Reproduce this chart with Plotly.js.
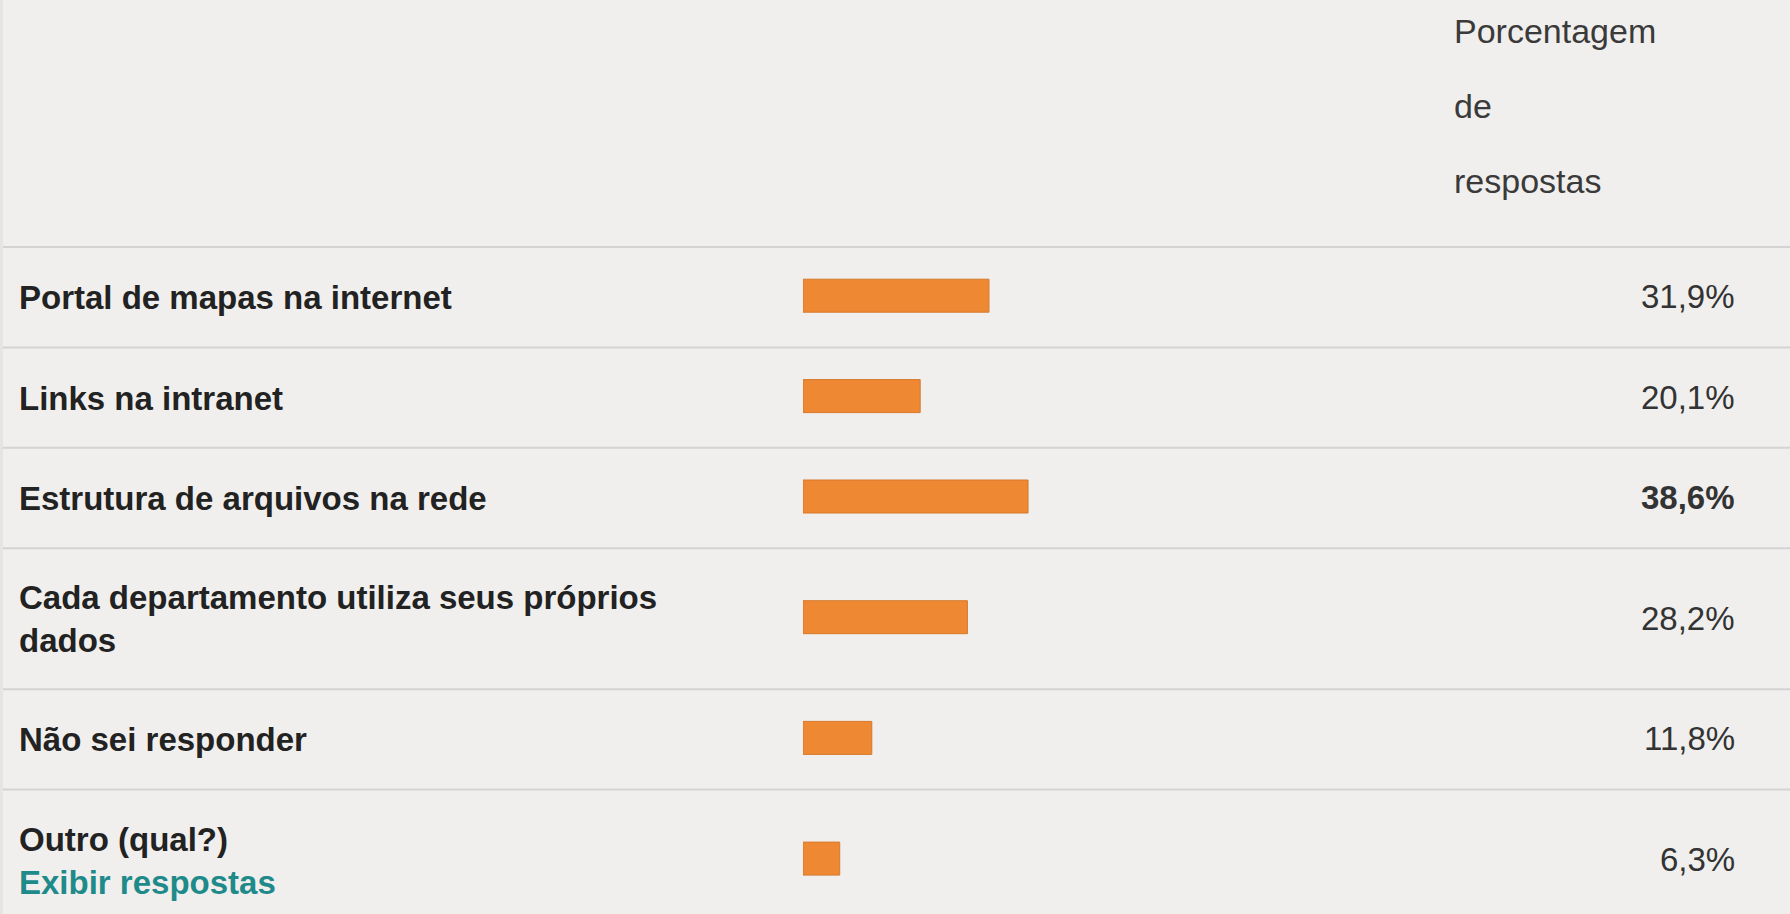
<!DOCTYPE html>
<html>
<head>
<meta charset="utf-8">
<script src="https://cdn.plot.ly/plotly-3.0.1.min.js"></script>
<style>
html, body { margin: 0; padding: 0; background: #f0efed; }
#chart { width: 1790px; height: 914px; }
</style>
</head>
<body>
<div id="chart"></div>
<script>
// ---- data ----
const categories = [
  "Portal de mapas na internet",
  "Links na intranet",
  "Estrutura de arquivos na rede",
  "Cada departamento utiliza seus próprios dados",
  "Não sei responder",
  "Outro (qual?)"
];
const tickLabels = [
  "Portal de mapas na internet",
  "Links na intranet",
  "Estrutura de arquivos na rede",
  "Cada departamento utiliza seus próprios<br>dados",
  "Não sei responder",
  "Outro (qual?)"
];
const linkLabels = ["", "", "", "", "", "Exibir respostas"];
const values = [31.9, 20.1, 38.6, 28.2, 11.8, 6.3];
const valueLabels = ["31,9%", "20,1%", "38,6%", "28,2%", "11,8%", "6,3%"];
const headerLines = ["Porcentagem", "de", "respostas"];

// ---- layout constants ----
const W = 1790, H = 914;
const FONT = "Liberation Sans, Arial, sans-serif";
const headerBottom = 247;          // px from top
const rowHeightByLines = {1: 100.4, 2: 141};
const barPx = 33;
const bandPx = 100;
const xStartPx = 803, pxPerPct = 5.83;
const labelXPx = 17, valueRightPx = 1737, headerXPx = 1452;
const headerCentersPx = [31, 106, 181];
const sepColor = "#d3d3d3";

const nLines = tickLabels.map((t, i) => t.split("<br>").length + (linkLabels[i] ? 1 : 0));
const rowTops = [];
let acc = headerBottom;
nLines.forEach(n => { rowTops.push(acc); acc += rowHeightByLines[n]; });
const rowCenters = rowTops.map((t, i) => t + rowHeightByLines[nLines[i]] / 2 - 1.5);

const maxVal = Math.max(...values);
const yName = i => (i === 0 ? "y" : "y" + (i + 1));
const yKey = i => (i === 0 ? "yaxis" : "yaxis" + (i + 1));

const traces = categories.map((c, i) => ({
  type: "bar",
  orientation: "h",
  x: [values[i]],
  y: [c],
  xaxis: "x",
  yaxis: yName(i),
  width: barPx / bandPx,
  marker: { color: "#ee8833", line: { color: "#d7792c", width: 1 } },
  hoverinfo: "none",
  showlegend: false
}));

const layout = {
  width: W, height: H,
  margin: { l: 0, r: 0, t: 0, b: 0, pad: 0 },
  paper_bgcolor: "#f0efed",
  plot_bgcolor: "rgba(0,0,0,0)",
  showlegend: false,
  bargap: 0,
  xaxis: {
    domain: [xStartPx / W, (xStartPx + 100 * pxPerPct) / W],
    range: [0, 100], visible: false, anchor: "y", fixedrange: true
  },
  annotations: [],
  shapes: []
};

categories.forEach((c, i) => {
  const ctr = rowCenters[i];
  layout[yKey(i)] = {
    domain: [(H - ctr - bandPx / 2) / H, (H - ctr + bandPx / 2) / H],
    type: "category", range: [-0.5, 0.5], visible: false,
    anchor: "x", fixedrange: true
  };
  let txt = "<b>" + tickLabels[i] + "</b>";
  if (linkLabels[i]) txt += "<br><b><span style=\"color:#1f8a8a\">" + linkLabels[i] + "</span></b>";
  layout.annotations.push({
    xref: "paper", x: labelXPx / W, xanchor: "left",
    yref: yName(i), y: c, yanchor: "middle", yshift: -2,
    text: txt, align: "left", showarrow: false,
    font: { family: FONT, size: 33, color: "#222222" }
  });
  layout.annotations.push({
    xref: "paper", x: valueRightPx / W, xanchor: "right",
    yref: yName(i), y: c, yanchor: "middle", yshift: -1,
    text: values[i] === maxVal ? "<b>" + valueLabels[i] + "</b>" : valueLabels[i],
    showarrow: false,
    font: { family: FONT, size: 33, color: "#333333" }
  });
  layout.shapes.push({
    type: "line", xref: "paper", yref: "paper",
    x0: 3 / W, x1: 1, y0: 1 - rowTops[i] / H, y1: 1 - rowTops[i] / H,
    line: { color: sepColor, width: 2 }
  });
});

headerLines.forEach((t, k) => {
  layout.annotations.push({
    xref: "paper", x: headerXPx / W, xanchor: "left",
    yref: "paper", y: 1 - headerCentersPx[k] / H, yanchor: "middle",
    text: t, showarrow: false,
    font: { family: FONT, size: 34, color: "#3a3a3a" }
  });
});

// thin left edge strip
layout.shapes.push({
  type: "rect", xref: "paper", yref: "paper",
  x0: 0, x1: 3 / W, y0: 0, y1: 1,
  fillcolor: "#e4e4e2", line: { width: 0 }
});

Plotly.newPlot("chart", traces, layout, { displayModeBar: false, staticPlot: true });
</script>
</body>
</html>
